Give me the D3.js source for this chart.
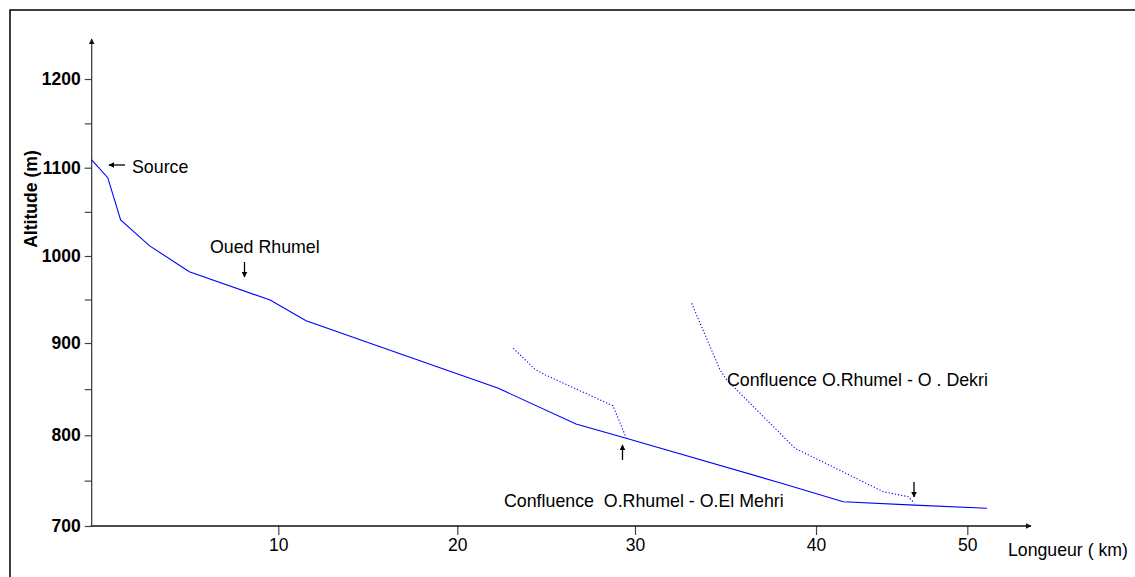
<!DOCTYPE html>
<html>
<head>
<meta charset="utf-8">
<script src="https://cdn.jsdelivr.net/npm/d3@7"></script>
<style>
  html, body { margin: 0; padding: 0; background: #fff; }
  svg { display: block; font-family: Arial, "Liberation Sans", sans-serif; }
  text { white-space: pre; }
</style>
</head>
<body>
<svg id="chart" width="1135" height="577"></svg>
<script>
// Longitudinal profile of Oued Rhumel and two tributaries
const rhumelKm  = [0, 0.86, 1.55, 3.09, 5.23, 9.56, 11.55, 22.31, 26.68, 29.5, 38.0, 41.8, 46.5, 51.3];
const rhumelAlt = [1108.7, 1088.7, 1040.8, 1011.7, 982, 949.4, 925.6, 850.9, 812.2, 796.7, 747.7, 726.8, 723, 719.5];

const mehriKm  = [23.15, 24.37, 25.0, 28.76, 29.5];
const mehriAlt = [894.3, 871.5, 865, 832, 797.4];

const dekriKm  = [33.13, 34.7, 35.07, 38.84, 44.45, 46.1, 46.5];
const dekriAlt = [945.6, 870.7, 859.9, 785.7, 737.8, 732.3, 725];

const xTickValues = [10, 20, 30, 40, 50];
const yTickValues = [700, 750, 800, 850, 900, 950, 1000, 1050, 1100, 1150, 1200];
const yLabelValues = [700, 800, 900, 1000, 1100, 1200];

const svg = d3.select("#chart");

// Frame
svg.append("rect")
  .attr("x", 10).attr("y", 10)
  .attr("width", 1140).attr("height", 600)
  .attr("fill", "none").attr("stroke", "#000").attr("stroke-width", 1.5);

// Axis graduations are piecewise on the original profile sheet
const x = d3.scaleLinear()
  .domain([0, 10, 20, 30, 40, 50])
  .range([91.7, 278.3, 457.3, 635, 816, 967.3]);
const y = d3.scaleLinear()
  .domain([700, 800, 900, 1000, 1100, 1200])
  .range([526, 435.3, 343, 256, 167.7, 79]);

const x0 = x(0), yBase = y(700);

// Arrowhead markers
const defs = svg.append("defs");
defs.append("marker")
  .attr("id", "axisHead")
  .attr("viewBox", "0 0 10 10").attr("refX", 9).attr("refY", 5)
  .attr("markerWidth", 6).attr("markerHeight", 6)
  .attr("markerUnits", "userSpaceOnUse")
  .attr("orient", "auto")
  .append("path").attr("d", "M0,0 L10,5 L0,10 Z").attr("fill", "#111");
defs.append("marker")
  .attr("id", "noteHead")
  .attr("viewBox", "0 0 10 10").attr("refX", 9).attr("refY", 5)
  .attr("markerWidth", 6).attr("markerHeight", 6)
  .attr("markerUnits", "userSpaceOnUse")
  .attr("orient", "auto")
  .append("path").attr("d", "M0,0 L10,5 L0,10 Z").attr("fill", "#000");

// X axis
const xAxis = d3.axisBottom(x)
  .tickValues(xTickValues)
  .tickSize(9)
  .tickPadding(4)
  .tickFormat(d3.format("d"));
const gx = svg.append("g")
  .attr("transform", `translate(0,${yBase})`)
  .call(xAxis);
gx.select(".domain").remove();
gx.selectAll(".tick line").attr("stroke", "#444").attr("stroke-width", 1.2);
gx.selectAll(".tick text")
  .attr("font-size", 17.5).attr("fill", "#000")
  .attr("font-family", "Arial, 'Liberation Sans', sans-serif");
svg.append("line")
  .attr("x1", x0 - 1).attr("x2", 1031)
  .attr("y1", yBase).attr("y2", yBase)
  .attr("stroke", "#111").attr("stroke-width", 1.6)
  .attr("marker-end", "url(#axisHead)");

// Y axis
const yAxis = d3.axisLeft(y)
  .tickValues(yTickValues)
  .tickSize(7)
  .tickPadding(4)
  .tickFormat(d => yLabelValues.includes(d) ? d3.format("d")(d) : "");
const gy = svg.append("g")
  .attr("transform", `translate(${x0},0)`)
  .call(yAxis);
gy.select(".domain").remove();
gy.selectAll(".tick line").attr("stroke", "#444").attr("stroke-width", 1.2);
gy.selectAll(".tick text")
  .attr("font-size", 17.5).attr("font-weight", "bold").attr("fill", "#000")
  .attr("font-family", "Arial, 'Liberation Sans', sans-serif");
svg.append("line")
  .attr("x1", x0).attr("x2", x0)
  .attr("y1", yBase).attr("y2", 39)
  .attr("stroke", "#333").attr("stroke-width", 1.2)
  .attr("marker-end", "url(#axisHead)");

// Axis titles
svg.append("text")
  .attr("transform", `translate(37,199) rotate(-90)`)
  .attr("text-anchor", "middle")
  .attr("font-size", 17.6).attr("font-weight", "bold")
  .text("Altitude (m)");
svg.append("text")
  .attr("x", 1008).attr("y", 556)
  .attr("font-size", 17.7)
  .text("Longueur ( km)");

// Profiles
const line = d3.line().x(d => x(d[0])).y(d => y(d[1]));

svg.append("path")
  .datum(d3.zip(rhumelKm, rhumelAlt))
  .attr("d", line)
  .attr("fill", "none").attr("stroke", "#0000ff").attr("stroke-width", 1.1);

svg.append("path")
  .datum(d3.zip(mehriKm, mehriAlt))
  .attr("d", line)
  .attr("fill", "none").attr("stroke", "#0000ff").attr("stroke-width", 1.1)
  .attr("stroke-dasharray", "1.2,2");

svg.append("path")
  .datum(d3.zip(dekriKm, dekriAlt))
  .attr("d", line)
  .attr("fill", "none").attr("stroke", "#0000ff").attr("stroke-width", 1.1)
  .attr("stroke-dasharray", "1.2,2");

// Annotations
function note(x1, y1, x2, y2) {
  svg.append("line")
    .attr("x1", x1).attr("y1", y1).attr("x2", x2).attr("y2", y2)
    .attr("stroke", "#000").attr("stroke-width", 1.3)
    .attr("marker-end", "url(#noteHead)");
}

note(125, 165, 109, 165);
svg.append("text").attr("x", 132).attr("y", 173).attr("font-size", 17.8).text("Source");

svg.append("text").attr("x", 210).attr("y", 253).attr("font-size", 17.8).text("Oued Rhumel");
note(244.5, 262, 244.5, 277);

note(622.5, 460, 622.5, 445);
svg.append("text").attr("x", 504).attr("y", 507).attr("font-size", 17.8)
  .text("Confluence  O.Rhumel - O.El Mehri");

svg.append("text").attr("x", 727).attr("y", 386).attr("font-size", 17.8)
  .text("Confluence O.Rhumel - O . Dekri");
note(914, 482, 914, 497);
</script>
</body>
</html>
